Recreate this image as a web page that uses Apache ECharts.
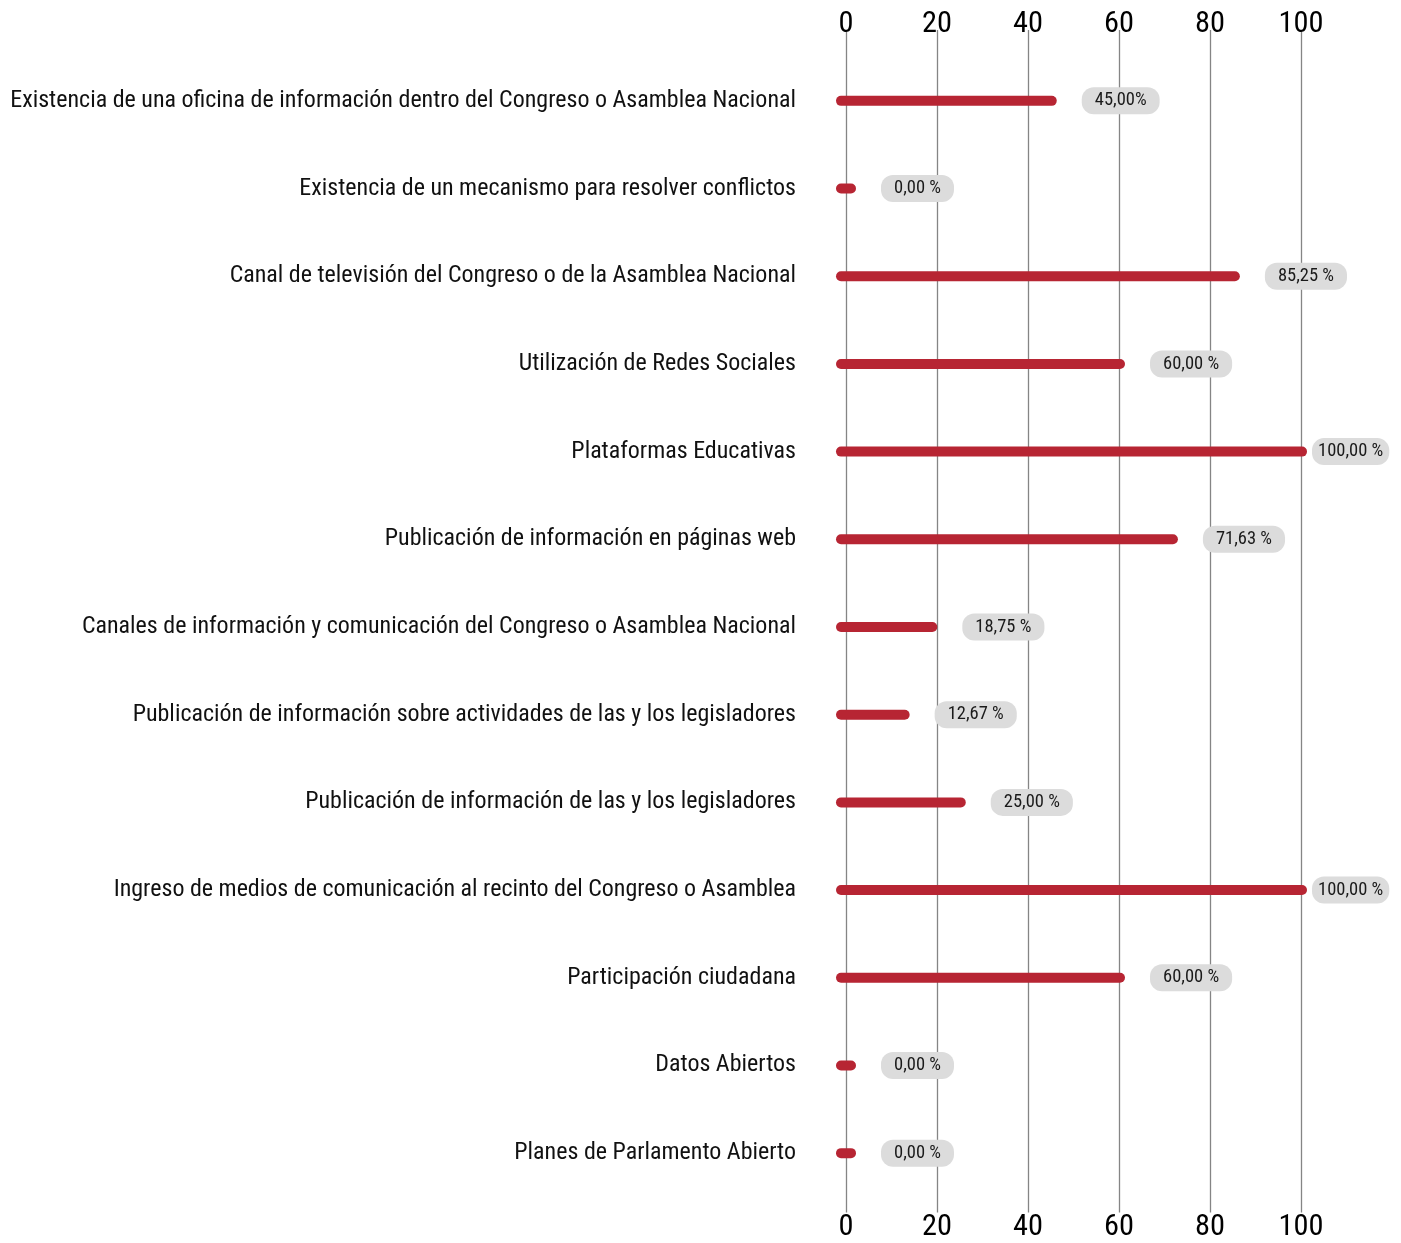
<!DOCTYPE html>
<html><head><meta charset="utf-8">
<script src="https://cdn.jsdelivr.net/npm/echarts@6/dist/echarts.min.js"></script>
<style>html,body{margin:0;padding:0;background:#fff}#chart{width:1401px;height:1243px}</style>
</head><body><div id="chart"></div>
<script>
const categories = [
  'Existencia de una oficina de información dentro del Congreso o Asamblea Nacional',
  'Existencia de un mecanismo para resolver conflictos',
  'Canal de televisión del Congreso o de la Asamblea Nacional',
  'Utilización de Redes Sociales',
  'Plataformas Educativas',
  'Publicación de información en páginas web',
  'Canales de información y comunicación del Congreso o Asamblea Nacional',
  'Publicación de información sobre actividades de las y los legisladores',
  'Publicación de información de las y los legisladores',
  'Ingreso de medios de comunicación al recinto del Congreso o Asamblea',
  'Participación ciudadana',
  'Datos Abiertos',
  'Planes de Parlamento Abierto'
];
const values = [45, 0, 85.25, 60, 100, 71.63, 18.75, 12.67, 25, 100, 60, 0, 0];
const valueLabels = ['45,00%', '0,00 %', '85,25 %', '60,00 %', '100,00 %', '71,63 %', '18,75 %', '12,67 %', '25,00 %', '100,00 %', '60,00 %', '0,00 %', '0,00 %'];
const axisMin = 0, axisMax = 100, axisStep = 20;

// font selection
const mctx = document.createElement('canvas').getContext('2d');
function tw(text, size, fam){ mctx.font = size + 'px ' + fam; return mctx.measureText(text).width; }
function has(name){
  const t = 'abcdefghijklmnopqrstuvwxyz0123456789ABC';
  return tw(t, 72, '"' + name + '", monospace') !== tw(t, 72, 'monospace') ||
         tw(t, 72, '"' + name + '", serif') !== tw(t, 72, 'serif');
}
const cands = ['Roboto Condensed', 'Liberation Sans Narrow', 'DejaVu Sans Condensed', 'Arial Narrow', 'Roboto'];
let fam = 'Roboto';
for (const c of cands) { if (has(c)) { fam = '"' + c + '"'; break; } }
const famStack = fam + ', Roboto, sans-serif';

const longest = categories.reduce((a, b) => tw(a, 22, famStack) > tw(b, 22, famStack) ? a : b);
const catSize = Math.min(27, 22 * 786 / tw(longest, 22, famStack));
const tickSize = Math.min(36, 32 * 45 / tw('100', 32, famStack));
const lblSize = Math.min(19, 16 * 47 / tw('0,00 %', 16, famStack));

const W = 1401;
const chart = echarts.init(document.getElementById('chart'), null, {renderer: 'canvas'});

function renderItem(params, api) {
  const v = api.value(0), i = api.value(1);
  const p0 = api.coord([0, i]);
  const p1 = api.coord([v, i]);
  const x0 = p0[0] - 10;
  const x1 = Math.max(p1[0] + 6, x0 + 20);
  const text = valueLabels[params.dataIndex];
  const textW = tw(text, lblSize, famStack);
  let pad = 13;
  let lx = x1 + 25;
  if (lx + textW + 2 * pad > W - 14) {
    lx = Math.max(x1 + 5, W - 14 - textW - 2 * pad);
    pad = Math.max(6, Math.min(13, (W - 14 - lx - textW) / 2));
  }
  return {
    type: 'group',
    children: [
      {type: 'rect', shape: {x: x0, y: p0[1] - 5, width: x1 - x0, height: 10, r: 5},
       style: {fill: '#b72533'}},
      {type: 'text', x: lx, y: p0[1],
       style: {text: text, fill: '#1a1a1a', fontSize: lblSize, fontFamily: famStack,
               backgroundColor: '#dcdcdc', padding: [4, pad, 4, pad], borderRadius: 12,
               align: 'left', verticalAlign: 'middle'}}
    ]
  };
}

const tickLabel = {fontSize: tickSize, fontFamily: famStack, color: '#000', lineHeight: tickSize};
chart.setOption({
  animation: false,
  backgroundColor: '#fff',
  grid: [
    {left: 846, right: 100, top: 57, bottom: 46, containLabel: false},
    {left: 846, right: 100, top: 30, bottom: 30, containLabel: false}
  ],
  xAxis: [
    {gridIndex: 0, type: 'value', min: axisMin, max: axisMax, interval: axisStep, show: false},
    {gridIndex: 1, type: 'value', position: 'top', min: axisMin, max: axisMax, interval: axisStep,
     axisLine: {show: false}, axisTick: {show: false},
     splitLine: {show: true, lineStyle: {color: '#858585', width: 1.3}},
     axisLabel: Object.assign({margin: -10}, tickLabel)},
    {gridIndex: 1, type: 'value', position: 'bottom', min: axisMin, max: axisMax, interval: axisStep,
     axisLine: {show: false}, axisTick: {show: false}, splitLine: {show: false},
     axisLabel: Object.assign({margin: 0}, tickLabel)}
  ],
  yAxis: [
    {gridIndex: 0, type: 'category', inverse: true, data: categories,
     axisLine: {show: false}, axisTick: {show: false}, splitLine: {show: false},
     axisLabel: {margin: 50, fontSize: catSize, fontFamily: famStack, color: '#111'}},
    {gridIndex: 1, type: 'value', show: false}
  ],
  series: [{
    type: 'custom', xAxisIndex: 0, yAxisIndex: 0,
    data: values.map((v, i) => [v, i]),
    encode: {x: 0, y: 1},
    renderItem: renderItem,
    clip: false
  }]
});
</script>
</body></html>
